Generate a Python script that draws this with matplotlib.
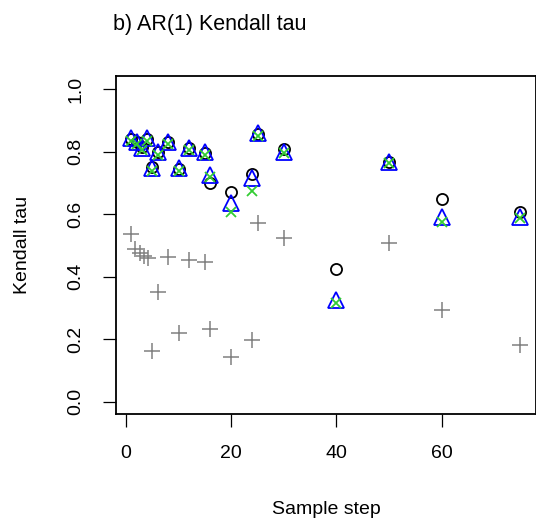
import matplotlib
matplotlib.use("Agg")
import matplotlib.pyplot as plt

# ── Data ──────────────────────────────────────────────────────
steps = [1, 2, 3, 4, 5, 6, 8, 10, 12, 15, 16, 20, 24, 25, 30, 40, 50, 60, 75]

tau_circle = [0.840, 0.830, 0.815, 0.840, 0.752, 0.800, 0.830, 0.745, 0.810, 0.795,
              0.700, 0.672, 0.729, 0.855, 0.808, 0.424, 0.768, 0.648, 0.605]
tau_triangle = [0.843, 0.832, 0.811, 0.843, 0.747, 0.800, 0.832, 0.747, 0.811, 0.800,
                0.726, 0.635, 0.715, 0.859, 0.800, 0.326, 0.765, 0.592, 0.592]
tau_cross = [0.835, 0.825, 0.805, 0.835, 0.738, 0.790, 0.825, 0.738, 0.805, 0.790,
             0.720, 0.605, 0.675, 0.850, 0.795, 0.315, 0.762, 0.576, 0.588]

plus_steps = [1, 1.65, 2.6, 3.4, 4.2, 5, 6, 8, 10, 12, 15, 16, 20, 24, 25, 30, 50, 60, 75]
tau_plus = [0.537, 0.488, 0.476, 0.465, 0.459, 0.163, 0.352, 0.462, 0.219, 0.454,
            0.448, 0.232, 0.144, 0.197, 0.570, 0.523, 0.507, 0.294, 0.181]

x_ticks = [0, 20, 40, 60]
y_ticks = [0.0, 0.2, 0.4, 0.6, 0.8, 1.0]

# ── Style ─────────────────────────────────────────────────────
plt.rcParams.update({
    "font.family": ["Liberation Sans", "DejaVu Sans"],
    "font.size": 14,
    "axes.linewidth": 1.3,
    "xtick.major.size": 9.5,
    "ytick.major.size": 9.5,
    "xtick.major.width": 0.9,
    "ytick.major.width": 0.9,
    "xtick.major.pad": 13,
    "ytick.major.pad": 13,
})

GREY  = "#808080"
BLUE  = "#0000FF"
GREEN = "#33CC33"

fig = plt.figure(figsize=(5.36, 5.31), dpi=100)
ax = fig.add_axes([0.216, 0.22, 0.784, 0.636])

ax.plot(plus_steps, tau_plus, linestyle="none", marker="+", markersize=11,
        markeredgewidth=1.1, color=GREY)
ax.plot(steps, tau_circle, linestyle="none", marker="o", markersize=8,
        markerfacecolor="none", markeredgewidth=1.3, markeredgecolor="black")
ax.plot(steps, tau_triangle, linestyle="none", marker="^", markersize=11,
        markerfacecolor="none", markeredgewidth=1.3, markeredgecolor=BLUE)
ax.plot(steps, tau_cross, linestyle="none", marker="x", markersize=7.5,
        markeredgewidth=1.3, color=GREEN)

# R-style 4% padding
ax.set_xlim(1 - 0.04 * 74, 75 + 0.04 * 74)
ax.set_ylim(-0.04, 1.04)
ax.set_xticks(x_ticks)
ax.set_yticks(y_ticks)
ax.set_yticklabels([f"{v:.1f}" for v in y_ticks], rotation=90, va="center")

ax.set_xlabel("Sample step", labelpad=28)
ax.set_ylabel("Kendall tau", labelpad=26)
fig.text(0.211, 0.944, "b) AR(1) Kendall tau", fontsize=15.5, ha="left", va="baseline")

fig.savefig("out.png", dpi=100)
